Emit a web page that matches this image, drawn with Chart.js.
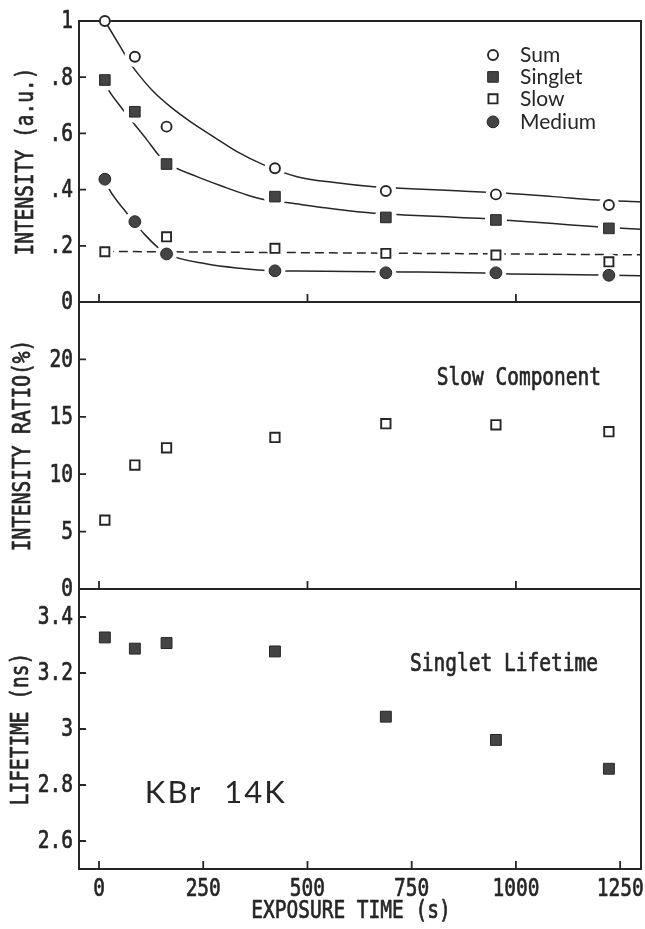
<!DOCTYPE html>
<html>
<head>
<meta charset="utf-8">
<title>KBr 14K – intensity, ratio and lifetime vs exposure time</title>
<script src="https://cdn.jsdelivr.net/npm/chart.js@4.4.1/dist/chart.umd.min.js"></script>
<style>
  html, body { margin: 0; padding: 0; background: #ffffff; }
  #wrap { width: 645px; height: 929px; }
</style>
</head>
<body>
<div id="wrap"><canvas id="chart" width="645" height="929"></canvas></div>
<script>
// ---- data -------------------------------------------------------------
// exposure times (s), shared by the three panels
const exposureTime = [14, 86, 162, 422, 688, 952, 1223];

// top panel: component intensities (a.u.)
const sumIntensity     = [1.0, 0.873, 0.624, 0.476, 0.395, 0.383, 0.345];
const singletIntensity = [0.79, 0.677, 0.491, 0.375, 0.301, 0.292, 0.262];
const slowIntensity    = [0.179, null, 0.232, 0.191, 0.173, 0.167, 0.143];
const mediumIntensity  = [0.437, 0.286, 0.171, 0.111, 0.104, 0.104, 0.095];

// fitted decay curves drawn through the top panel
const sumFitTime      = [14, 51, 75, 99, 131, 171, 219, 275, 331, 395, 475, 565, 659, 760, 870, 978, 1090, 1194, 1300];
const sumFitValue     = [1.0, 0.909, 0.849, 0.802, 0.748, 0.695, 0.642, 0.588, 0.535, 0.488, 0.446, 0.425, 0.410, 0.402, 0.395, 0.387, 0.375, 0.363, 0.356];
const singletFitTime  = [14, 23, 52, 83, 115, 143, 163, 235, 299, 355, 395, 459, 560, 659, 731, 820, 922, 986, 1090, 1194, 1300];
const singletFitValue = [0.78, 0.754, 0.695, 0.636, 0.577, 0.523, 0.495, 0.446, 0.410, 0.381, 0.365, 0.352, 0.332, 0.316, 0.310, 0.304, 0.297, 0.290, 0.279, 0.268, 0.259];
const mediumFitTime   = [14, 23, 67, 83, 111, 139, 163, 259, 338, 417, 475, 659, 731, 922, 986, 1194, 1300];
const mediumFitValue  = [0.437, 0.405, 0.316, 0.286, 0.238, 0.197, 0.171, 0.135, 0.120, 0.111, 0.110, 0.108, 0.107, 0.103, 0.100, 0.096, 0.093];
const slowLevelTime   = [14, 1300];
const slowLevelValue  = [0.18, 0.168];

// middle panel: slow component intensity ratio (%)
const slowRatio = [6.0, 10.8, 12.3, 13.2, 14.4, 14.3, 13.7];

// bottom panel: singlet lifetime (ns)
const singletLifetime = [3.327, 3.287, 3.307, 3.277, 3.044, 2.961, 2.858];

// axis ticks and their labels
const timeTicks            = [0, 250, 500, 750, 1000, 1250];
const timeTickLabels       = ['0', '250', '500', '750', '1000', '1250'];
const timeTicksUpper       = [0, 500, 1000];
const intensityTicks       = [0, 0.2, 0.4, 0.6, 0.8, 1];
const intensityTickLabels  = ['0', '.2', '.4', '.6', '.8', '1'];
const ratioTicks           = [0, 5, 10, 15, 20];
const ratioTickLabels      = ['0', '5', '10', '15', '20'];
const lifetimeTicks        = [2.6, 2.8, 3, 3.2, 3.4];
const lifetimeTickLabels   = ['2.6', '2.8', '3', '3.2', '3.4'];

// series names shown in the key
const seriesNames = ['Sum', 'Singlet', 'Slow', 'Medium'];

// ---- styling ------------------------------------------------------------
const INK = '#262626';
const FILL = '#444444';
const PLOT_FONT = '"DejaVu Sans Mono", "Liberation Mono", monospace';
const PLOT_SIZE = 19.5;
const STRETCH = 1.25;
const GOTHIC_FONT = 'Lato, "Open Sans", sans-serif';

const pts = (xs, ys) => xs.map((x, i) => ({ x, y: ys[i] }));

const markerStyles = {
  Sum:     { pointStyle: 'circle', pointRadius: 5,   pointBackgroundColor: '#ffffff', pointBorderColor: INK, pointBorderWidth: 1.9 },
  Singlet: { pointStyle: 'rect',   pointRadius: 7.5, pointBackgroundColor: FILL,      pointBorderColor: INK, pointBorderWidth: 1 },
  Slow:    { pointStyle: 'rect',   pointRadius: 6.4, pointBackgroundColor: '#ffffff', pointBorderColor: INK, pointBorderWidth: 1.9 },
  Medium:  { pointStyle: 'circle', pointRadius: 5.9, pointBackgroundColor: FILL,      pointBorderColor: INK, pointBorderWidth: 1 }
};

function markers(label, ys, yAxisID, style) {
  return Object.assign({
    label, data: pts(exposureTime, ys), yAxisID, xAxisID: 'x',
    showLine: false, order: 0, clip: false, pointHoverRadius: 0
  }, style);
}

// white discs under the markers so the fitted curves break around them
function halo(ys, radius) {
  return {
    label: 'halo', data: pts(exposureTime, ys), yAxisID: 'yI', xAxisID: 'x',
    showLine: false, order: 1, clip: false,
    pointStyle: 'circle',
    pointRadius: c => (c.raw && c.raw.y >= 0.99 ? 5.5 : radius),
    pointBackgroundColor: '#ffffff', pointBorderWidth: 0
  };
}

function curve(xs, ys, dash) {
  return {
    label: 'fit', data: pts(xs, ys), yAxisID: 'yI', xAxisID: 'x',
    showLine: true, order: 2, clip: false,
    borderColor: INK, borderWidth: 1.5, borderDash: dash || [],
    pointRadius: 0, pointHoverRadius: 0,
    cubicInterpolationMode: dash ? 'default' : 'monotone'
  };
}

const datasets = [
  markers('Sum', sumIntensity, 'yI', markerStyles.Sum),
  markers('Singlet', singletIntensity, 'yI', markerStyles.Singlet),
  markers('Slow', slowIntensity, 'yI', markerStyles.Slow),
  markers('Medium', mediumIntensity, 'yI', markerStyles.Medium),
  markers('Slow Component', slowRatio, 'yR',
    { pointStyle: 'rect', pointRadius: 6.6, pointBackgroundColor: '#ffffff', pointBorderColor: INK, pointBorderWidth: 1.9 }),
  markers('Singlet Lifetime', singletLifetime, 'yL',
    { pointStyle: 'rect', pointRadius: 7.7, pointBackgroundColor: FILL, pointBorderColor: INK, pointBorderWidth: 1 }),
  halo(sumIntensity, 10.5), halo(singletIntensity, 11), halo(slowIntensity, 8.5), halo(mediumIntensity, 10.5),
  curve(sumFitTime, sumFitValue),
  curve(singletFitTime, singletFitValue),
  curve(mediumFitTime, mediumFitValue),
  curve(slowLevelTime, slowLevelValue, [9, 5])
];

// the three stacked panels
const panelDefs = [
  { id: 'yI', ticks: intensityTicks, labels: intensityTickLabels, title: 'INTENSITY (a.u.)',   titleX: 27, timeTicks: timeTicksUpper },
  { id: 'yR', ticks: ratioTicks,     labels: ratioTickLabels,     title: 'INTENSITY RATIO(%)', titleX: 24, timeTicks: timeTicksUpper },
  { id: 'yL', ticks: lifetimeTicks,  labels: lifetimeTickLabels,  title: 'LIFETIME (ns)',      titleX: 22, timeTicks: timeTicks }
];

// ---- drawing helpers ------------------------------------------------------
// narrow, tall plotter-style lettering: a monospace face stretched vertically
function plotText(ctx, text, x, y, align, angle) {
  ctx.save();
  ctx.translate(x, y);
  if (angle) ctx.rotate(angle);
  ctx.scale(1, STRETCH);
  ctx.font = PLOT_SIZE + 'px ' + PLOT_FONT;
  ctx.textAlign = align;
  ctx.textBaseline = 'middle';
  ctx.fillStyle = INK;
  ctx.strokeStyle = INK;
  ctx.lineWidth = 0.55;
  ctx.lineJoin = 'round';
  ctx.fillText(text, 0, 0);
  ctx.strokeText(text, 0, 0);
  ctx.restore();
}

function keyMarker(ctx, name, x, y) {
  const s = markerStyles[name];
  ctx.save();
  ctx.fillStyle = s.pointBackgroundColor;
  ctx.strokeStyle = s.pointBorderColor;
  ctx.lineWidth = s.pointBorderWidth;
  ctx.beginPath();
  if (s.pointStyle === 'circle') {
    ctx.arc(x, y, s.pointRadius, 0, Math.PI * 2);
  } else {
    const h = s.pointRadius * Math.SQRT1_2;
    ctx.rect(x - h, y - h, 2 * h, 2 * h);
  }
  ctx.fill();
  ctx.stroke();
  ctx.restore();
}

const panelPlugin = {
  id: 'panelFrames',
  beforeDatasetsDraw(chart) {
    const { ctx, chartArea, scales } = chart;
    ctx.save();
    ctx.strokeStyle = INK;
    ctx.lineCap = 'butt';
    for (const p of panelDefs) {
      const s = scales[p.id];
      ctx.lineWidth = 2;
      ctx.strokeRect(chartArea.left, s.top, chartArea.right - chartArea.left, s.bottom - s.top);
      ctx.lineWidth = 1.8;
      ctx.beginPath();
      for (const v of p.ticks) {
        const y = s.getPixelForValue(v);
        ctx.moveTo(chartArea.left, y);
        ctx.lineTo(chartArea.left + 7, y);
      }
      for (const t of p.timeTicks) {
        const x = scales.x.getPixelForValue(t);
        ctx.moveTo(x, s.bottom);
        ctx.lineTo(x, s.bottom - 8);
      }
      ctx.stroke();
    }
    ctx.restore();
  },
  afterDraw(chart) {
    const { ctx, chartArea, scales } = chart;
    const xs = scales.x;

    // y tick labels and panel titles
    for (const p of panelDefs) {
      const s = scales[p.id];
      p.ticks.forEach((v, i) => plotText(ctx, p.labels[i], chartArea.left - 6, s.getPixelForValue(v) + 1, 'right'));
      plotText(ctx, p.title, p.titleX, (s.top + s.bottom) / 2, 'center', -Math.PI / 2);
    }

    // time axis
    timeTicks.forEach((t, i) => plotText(ctx, timeTickLabels[i], xs.getPixelForValue(t), chartArea.bottom + 21, 'center'));
    plotText(ctx, 'EXPOSURE TIME (s)', (chartArea.left + chartArea.right) / 2 - 9, chartArea.bottom + 43, 'center');

    // panel captions
    plotText(ctx, 'Slow Component', xs.getPixelForValue(810), scales.yR.getPixelForValue(18.3), 'left');
    plotText(ctx, 'Singlet Lifetime', xs.getPixelForValue(746), scales.yL.getPixelForValue(3.23), 'left');

    // sample label
    ctx.save();
    ctx.font = '31px ' + GOTHIC_FONT;
    ctx.fillStyle = INK;
    ctx.textAlign = 'left';
    ctx.textBaseline = 'middle';
    if ('letterSpacing' in ctx) ctx.letterSpacing = '2px';
    if ('wordSpacing' in ctx) ctx.wordSpacing = '12px';
    ctx.fillText('KBr 14K', xs.getPixelForValue(110), scales.yL.getPixelForValue(2.773));
    ctx.restore();

    // key
    const keyRows = [0.879, 0.801, 0.723, 0.641];
    seriesNames.forEach((name, i) => {
      const y = scales.yI.getPixelForValue(keyRows[i]);
      keyMarker(ctx, name, xs.getPixelForValue(945), y);
      ctx.save();
      ctx.font = '21px ' + GOTHIC_FONT;
      ctx.fillStyle = INK;
      ctx.textAlign = 'left';
      ctx.textBaseline = 'middle';
      ctx.fillText(name, xs.getPixelForValue(1010), y);
      ctx.restore();
    });
  }
};

const hiddenAxis = {
  grid: { display: false },
  border: { display: false },
  ticks: { display: false }
};

new Chart(document.getElementById('chart'), {
  type: 'scatter',
  data: { datasets },
  options: {
    responsive: false,
    animation: false,
    devicePixelRatio: 1,
    events: [],
    layout: { padding: { top: 21, right: 4, left: 0, bottom: 0 }, autoPadding: false },
    plugins: { legend: { display: false }, tooltip: { enabled: false } },
    scales: {
      x: Object.assign({ type: 'linear', position: 'bottom', min: -48, max: 1300,
        afterFit: s => { s.height = 60; } }, hiddenAxis),
      yI: Object.assign({ type: 'linear', position: 'left', stack: 'panels', stackWeight: 281, weight: 3,
        min: 0, max: 1, afterFit: s => { s.width = 79; } }, hiddenAxis),
      yR: Object.assign({ type: 'linear', position: 'left', stack: 'panels', stackWeight: 287, weight: 2,
        min: 0, max: 25, afterFit: s => { s.width = 79; } }, hiddenAxis),
      yL: Object.assign({ type: 'linear', position: 'left', stack: 'panels', stackWeight: 280, weight: 1,
        min: 2.5, max: 3.5, afterFit: s => { s.width = 79; } }, hiddenAxis)
    }
  },
  plugins: [panelPlugin]
});
</script>
</body>
</html>
